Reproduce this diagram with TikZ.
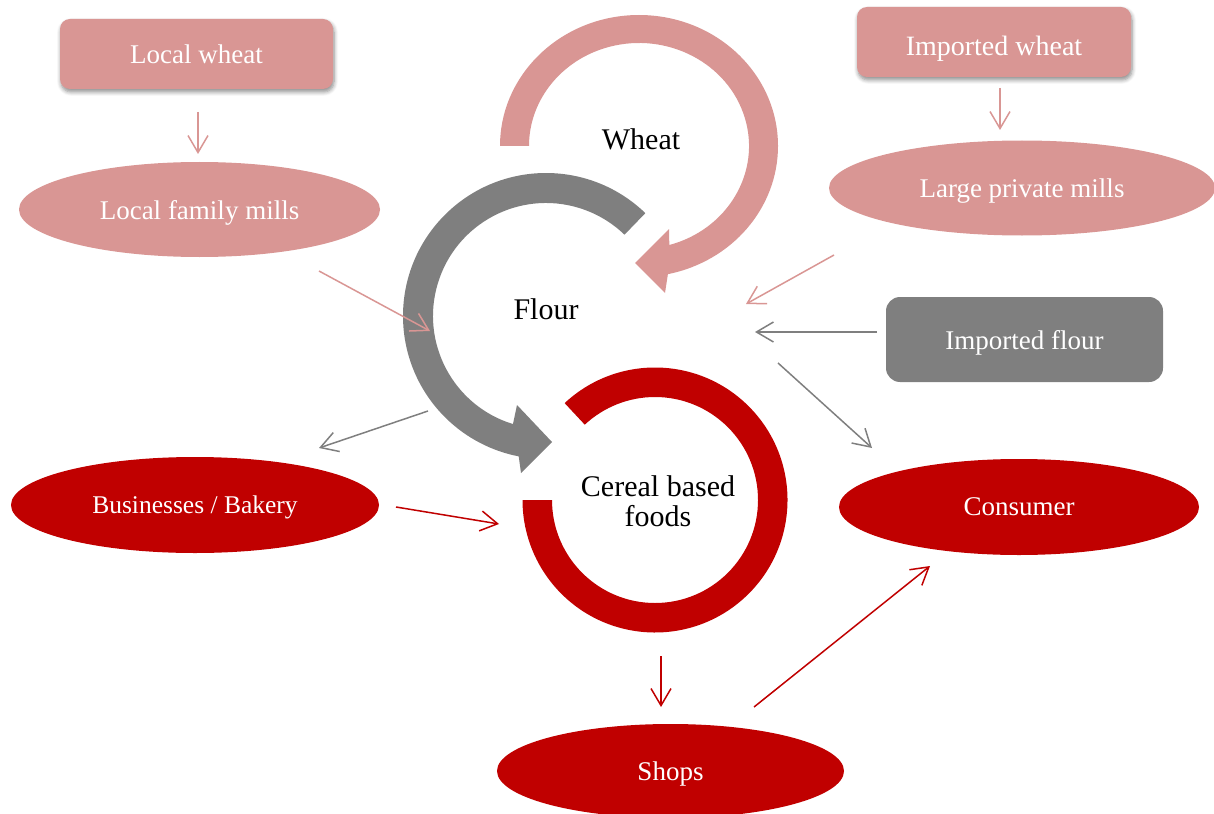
\documentclass[tikz,border=0pt]{standalone}
\usepackage{fontspec}
\setmainfont{Liberation Serif}
\usetikzlibrary{arrows.meta,shapes.geometric,shadows,shadows.blur}
\definecolor{pinkc}{HTML}{D99694}
\definecolor{grayc}{HTML}{7F7F7F}
\definecolor{redc}{HTML}{C00000}
\begin{document}
\begin{tikzpicture}[x=1pt,y=-1pt,
  wtext/.style={text=white,font=\fontsize{27}{32}\selectfont,inner sep=0pt,text depth=0pt},
  btext/.style={text=black,font=\fontsize{30}{30}\selectfont,align=center,inner sep=0pt},
  pinkbox/.style={wtext,fill=pinkc,rounded corners=10pt,minimum width=273pt,minimum height=70pt,
     blur shadow={shadow xshift=1pt,shadow yshift=-3pt,shadow blur steps=6,shadow blur radius=4pt,shadow opacity=45}},
  graybox/.style={wtext,fill=grayc,rounded corners=14pt,minimum width=277pt,minimum height=85pt},
  oval/.style={wtext,ellipse,minimum height=95pt},
  conn/.style={line width=1.5pt,-{Straight Barb[length=17pt,width=20pt]}},
]
\useasboundingbox (0,0) rectangle (1214,813);

% circular arrows
\begin{scope}[shift={(639,146)}]
\fill[pinkc] (180:139pt and 131pt) arc[start angle=180,end angle=-78,x radius=139pt,y radius=131pt]
  -- (26,147) -- (-4,117) -- (30,83)
  -- (-74:110pt and 103pt) arc[start angle=-74,end angle=180,x radius=110pt,y radius=103pt] -- cycle;
\end{scope}
\begin{scope}[shift={(546,316)}]
\fill[grayc] (46:143pt) arc[start angle=46,end angle=259,radius=143pt]
  -- (-25,157) -- (6,126) -- (-29,89)
  -- (253:113pt) arc[start angle=253,end angle=46,radius=113pt] -- cycle;
\end{scope}
\begin{scope}[shift={(655,500)}]
\fill[redc] (133:132.5pt) arc[start angle=133,end angle=-180,radius=132.5pt]
  -- (-180:103pt) arc[start angle=-180,end angle=133,radius=103pt] -- cycle;
\end{scope}

\node[btext] (wheat) at (641,139) {Wheat};
\node[btext] (flour) at (546,309) {Flour};
\node[btext] (cereal) at (658,501) {Cereal based\\foods};

% boxes and ovals
\node[pinkbox] (lw) at (196.5,54) {Local wheat};
\node[oval,fill=pinkc,minimum width=361pt] (lfm) at (199.5,209.5) {Local family mills};
\node[pinkbox,minimum width=274pt,text height=28pt,font=\fontsize{28}{32}\selectfont] (iw) at (994,42) {Imported wheat};
\node[oval,fill=pinkc,minimum width=386pt] (lpm) at (1022,188) {Large private mills};
\node[graybox] (ifl) at (1024.5,339.5) {Imported flour};
\node[oval,fill=redc,minimum width=368pt,minimum height=96pt,font=\fontsize{25.5}{30}\selectfont] (bb) at (195,505) {Businesses / Bakery};
\node[oval,fill=redc,minimum width=360pt,minimum height=96pt] (con) at (1019,507) {Consumer};
\node[oval,fill=redc,minimum width=347pt,minimum height=94pt] (shops) at (670.5,771) {Shops};

% connector ends
\coordinate (lw-o) at (198,112);   \coordinate (lfm-i) at (198,154);
\coordinate (iw-o) at (1000,88);   \coordinate (lpm-i) at (1000,130);
\coordinate (lfm-o) at (319,271);  \coordinate (flour-i1) at (430,331);
\coordinate (lpm-o) at (834,255);  \coordinate (flour-i2) at (746,304);
\coordinate (ifl-o) at (877,332);  \coordinate (flour-i3) at (755,332);
\coordinate (flour-o1) at (778,363); \coordinate (con-i1) at (872,448);
\coordinate (flour-o2) at (428,411); \coordinate (bb-i) at (319,448);
\coordinate (bb-o) at (396,507);   \coordinate (cereal-i) at (499,524);
\coordinate (cereal-o) at (661,656); \coordinate (shops-i) at (661,707);
\coordinate (shops-o) at (754,707); \coordinate (con-i2) at (930,566);

\draw[conn,pinkc] (lw-o) -- (lfm-i);
\draw[conn,pinkc] (iw-o) -- (lpm-i);
\draw[conn,pinkc] (lfm-o) -- (flour-i1);
\draw[conn,pinkc] (lpm-o) -- (flour-i2);
\draw[conn,grayc] (ifl-o) -- (flour-i3);
\draw[conn,grayc] (flour-o1) -- (con-i1);
\draw[conn,grayc] (flour-o2) -- (bb-i);
\draw[conn,redc] (bb-o) -- (cereal-i);
\draw[conn,redc] (cereal-o) -- (shops-i);
\draw[conn,redc] (shops-o) -- (con-i2);
\end{tikzpicture}
\end{document}
